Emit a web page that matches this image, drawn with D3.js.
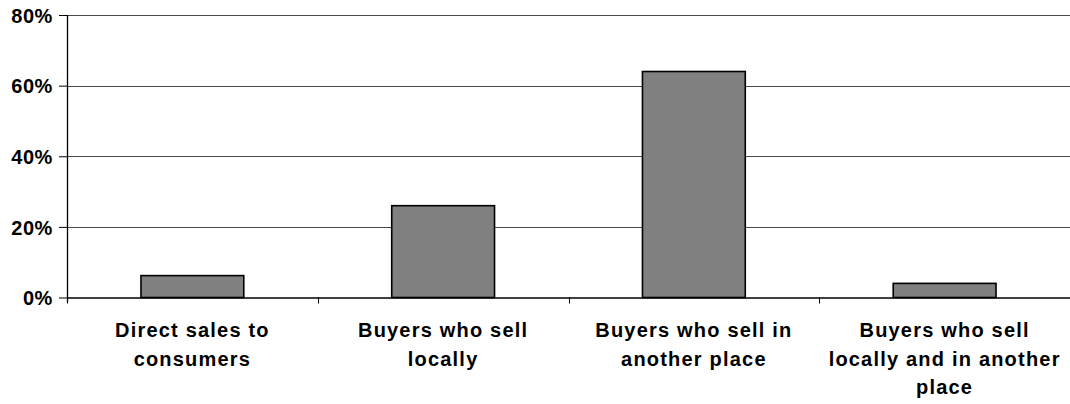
<!DOCTYPE html>
<html>
<head>
<meta charset="utf-8">
<script src="https://cdn.jsdelivr.net/npm/d3@7"></script>
<style>
  html, body { margin: 0; padding: 0; background: #fff; }
  svg { display: block; }
  text { font-family: "Liberation Sans", Arial, sans-serif; font-weight: bold; fill: #000; }
</style>
</head>
<body>
<svg id="chart" width="1070" height="404"></svg>
<script>
// Share of sales by type of buyer
const categories = [
  "Direct sales to consumers",
  "Buyers who sell locally",
  "Buyers who sell in another place",
  "Buyers who sell locally and in another place"
];
const categoryLabels = [
  ["Direct sales to", "consumers"],
  ["Buyers who sell", "locally"],
  ["Buyers who sell in", "another place"],
  ["Buyers who sell", "locally and in another", "place"]
];
const shares = [6.2, 26, 64, 4];
const yTicks = [0, 20, 40, 60, 80];

const width = 1070, height = 404;
const margin = { top: 15, right: 0, bottom: 106.5, left: 67 };
const innerW = width - margin.left - margin.right;
const innerH = height - margin.top - margin.bottom;

const svg = d3.select("#chart");
const g = svg.append("g").attr("transform", `translate(${margin.left},${margin.top})`);

const x = d3.scaleBand()
  .domain(categories)
  .range([0, innerW])
  .paddingInner(0.59)
  .paddingOuter(0.295);

const y = d3.scaleLinear().domain([0, 80]).range([innerH, 0]);

// horizontal gridlines
g.append("g")
  .selectAll("line")
  .data(yTicks.filter(d => d > 0))
  .join("line")
  .attr("x1", 0)
  .attr("x2", innerW)
  .attr("y1", d => Math.round(y(d)) + 0.5)
  .attr("y2", d => Math.round(y(d)) + 0.5)
  .attr("stroke", "#4a4a4a")
  .attr("stroke-width", 1);

// bars
g.append("g")
  .selectAll("rect")
  .data(shares)
  .join("rect")
  .attr("x", (d, i) => x(categories[i]))
  .attr("y", d => y(d))
  .attr("width", x.bandwidth())
  .attr("height", d => innerH - y(d))
  .attr("fill", "#808080")
  .attr("stroke", "#000")
  .attr("stroke-width", 1.6);

// y axis
const yAxis = g.append("g")
  .call(d3.axisLeft(y)
    .tickValues(yTicks)
    .tickFormat(d => d + "%")
    .tickSize(8)
    .tickPadding(6));
yAxis.select(".domain").attr("stroke", "#000").attr("stroke-width", 1.3).attr("d", `M0.5,${innerH + 5}V0`);
yAxis.selectAll(".tick line").attr("stroke", "#000").attr("stroke-width", 1);
yAxis.selectAll(".tick text")
  .style("font-size", "20px")
  .style("letter-spacing", "0.6px")
  .attr("dy", "0.36em");

// x axis baseline with category boundary ticks
const step = x.step();
const boundaries = d3.range(categories.length + 1).map(i => i * step);
g.append("line")
  .attr("x1", 0).attr("x2", innerW)
  .attr("y1", innerH + 0.5).attr("y2", innerH + 0.5)
  .attr("stroke", "#000").attr("stroke-width", 1.3);
g.append("g")
  .selectAll("line")
  .data(boundaries)
  .join("line")
  .attr("x1", d => Math.round(d) + 0.5)
  .attr("x2", d => Math.round(d) + 0.5)
  .attr("y1", innerH)
  .attr("y2", innerH + 6)
  .attr("stroke", "#000").attr("stroke-width", 1);

// category labels
const labels = g.append("g")
  .selectAll("text")
  .data(categories)
  .join("text")
  .attr("text-anchor", "middle")
  .attr("transform", d => `translate(${x(d) + x.bandwidth() / 2},${innerH + 39.5})`)
  .style("font-size", "20px")
  .style("letter-spacing", "1.2px");
labels.each(function (d, i) {
  d3.select(this).selectAll("tspan")
    .data(categoryLabels[i])
    .join("tspan")
    .attr("x", 0)
    .attr("y", (t, j) => j * 28.5)
    .text(t => t);
});
</script>
</body>
</html>
